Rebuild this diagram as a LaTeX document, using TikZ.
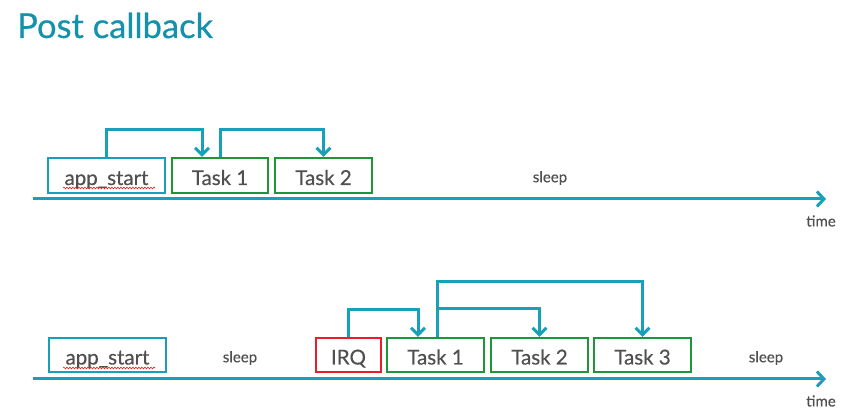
\documentclass[tikz,border=0pt]{standalone}
\usepackage{fontspec}
\setmainfont{Lato}
\newfontfamily\medfont{Lato}[FakeBold=0.5]
\usetikzlibrary{arrows.meta,decorations.pathmorphing}
\definecolor{tealline}{RGB}{24,160,186}
\definecolor{titlec}{RGB}{20,146,172}
\definecolor{greenb}{RGB}{30,150,55}
\definecolor{redb}{RGB}{235,30,40}
\definecolor{txt}{RGB}{80,80,80}
\begin{document}
\begin{tikzpicture}[x=1pt,y=-1pt,
  box/.style={draw, line width=2.2pt, inner sep=0pt, minimum height=35pt,
    text height=20pt, text depth=1pt, font=\medfont\fontsize{20.5}{20.5}\selectfont, text=txt},
  tealbox/.style={box, draw=tealline},
  greenbox/.style={box, draw=greenb},
  redbox/.style={box, draw=redb},
  conn/.style={draw=tealline, line width=3pt, -{Straight Barb[length=7pt,width=14pt]}},
  axisline/.style={draw=tealline, line width=3pt, -{Straight Barb[length=7pt,width=15pt]}},
  small/.style={font=\medfont\fontsize{15}{15}\selectfont, text=txt, inner sep=0pt},
  squig/.style={draw=redb, line width=0.6pt, decorate, decoration={snake, amplitude=0.9pt, segment length=3pt}}
]
\useasboundingbox (0,0) rectangle (855,419);

% title
\node[anchor=base west, inner sep=0pt, text=titlec, font=\medfont\fontsize{34.5}{34.5}\selectfont] (title) at (17,38) {Post callback};

% top row
\node[tealbox, minimum width=117pt] (app1) at (106.5,175.5) {app\_start};
\node[greenbox, minimum width=96pt] (t1a) at (220,175.5) {Task 1};
\node[greenbox, minimum width=97pt] (t2a) at (323.5,175.5) {Task 2};
\coordinate (ax1s) at (33,199);
\coordinate (ax1e) at (826,199);
\draw[axisline] (ax1s) -- (ax1e);
\node[small] (sleep1) at (550,178) {sleep};
\node[small] (time1) at (821,221) {time};
\draw[conn] (app1.north) -- ++(0,-27) -| ([xshift=-18pt]t1a.north);
\draw[conn] (t1a.north) -- ++(0,-27) -| (t2a.north);
\coordinate (sq1s) at (63,188);
\coordinate (sq1e) at (155,188);
\draw[squig] (sq1s) -- (sq1e);

% bottom row
\node[tealbox, minimum width=117pt, minimum height=34pt] (app2) at (107.5,355) {app\_start};
\node[redbox, minimum width=65pt, minimum height=34pt] (irq) at (348.5,355) {IRQ};
\node[greenbox, minimum width=97pt, minimum height=34pt] (t1b) at (435.5,355) {Task 1};
\node[greenbox, minimum width=97pt, minimum height=34pt] (t2b) at (539.5,355) {Task 2};
\node[greenbox, minimum width=97pt, minimum height=34pt] (t3b) at (642.5,355) {Task 3};
\coordinate (ax2s) at (33,379);
\coordinate (ax2e) at (826,379);
\draw[axisline] (ax2s) -- (ax2e);
\node[small] (sleep2) at (240,358) {sleep};
\node[small] (sleep3) at (766,358) {sleep};
\node[small] (time2) at (821,401) {time};
\draw[conn] (irq.north) -- ++(0,-27) -| ([xshift=-17.5pt]t1b.north);
\coordinate (br) at ([xshift=1.5pt,yshift=28pt]t1b.north);
\draw[conn] ([xshift=1.5pt]t1b.north) -- ++(0,-55) -| (t3b.north);
\draw[conn] (br) -| (t2b.north);
\coordinate (sq2s) at (63,368);
\coordinate (sq2e) at (155,368);
\draw[squig] (sq2s) -- (sq2e);
\end{tikzpicture}
\end{document}
